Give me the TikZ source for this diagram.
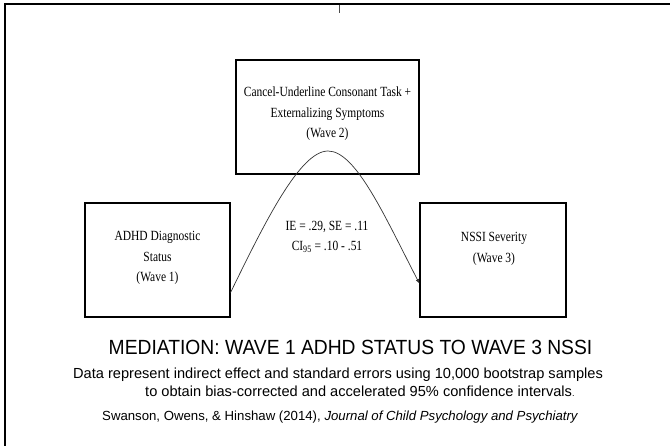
\documentclass[tikz,border=0pt]{standalone}
\usepackage{fontspec}
\setmainfont{Liberation Serif}
\newfontfamily\boxfont[FakeStretch=0.82]{Liberation Serif}
\newfontfamily\sansf{Liberation Sans}
\newfontfamily\titlefont[FakeStretch=0.94]{Liberation Sans}
\usetikzlibrary{arrows.meta,shadows}
\begin{document}
\begin{tikzpicture}[x=1pt,y=-1pt,
  box/.style={draw=black, line width=1.1pt, fill=white, inner sep=0pt,
    drop shadow={shadow xshift=0.6pt, shadow yshift=-1.2pt, fill=black!35, opacity=0.6}},
  boxtxt/.style={align=center, inner sep=0pt, font=\boxfont\fontsize{14}{20.5}\selectfont},
  conn/.style={draw=black!80, line width=0.7pt, -{Latex[length=4.5pt,width=3.6pt]}},
  frame/.style={line width=2pt, draw=black},
  caption/.style={inner sep=0pt, anchor=base west, font=\sansf\fontsize{14.6}{16}\selectfont}]
\useasboundingbox[fill=white] (0,0) rectangle (670,446);
% frame
\coordinate (fc) at (5,4.5);
\coordinate (fr) at (670,4.5);
\coordinate (fb) at (5,446);
\draw[frame] (fr) -- (fc) -- (fb);
\coordinate (tk1) at (339,5);
\coordinate (tk2) at (339,13);
\draw[black!70, line width=0.7pt] (tk1) -- (tk2);
% boxes
\node[box, minimum width=183pt, minimum height=114pt] (T) at (327.5,117) {};
\node[box, minimum width=145pt, minimum height=114pt] (L) at (157.5,260) {};
\node[box, minimum width=146pt, minimum height=114pt] (R) at (493,260) {};
% box texts
\node[boxtxt] (toptext) at (327.5,114) {Cancel-Underline Consonant Task +\\Externalizing Symptoms\\(Wave 2)};
\node[boxtxt] (lefttext) at (157.5,258) {ADHD Diagnostic\\Status\\(Wave 1)};
\node[boxtxt] (righttext) at (494,249) {NSSI Severity\\(Wave 3)};
\node[boxtxt] (ie) at (327,237) {IE = .29, SE = .11\\CI\textsubscript{95} = .10 - .51};
% connector
\coordinate (peak) at (328,151);
\draw[conn] ([yshift=25pt]L.south east) .. controls (265,222) and (300,151) .. (peak)
  .. controls (356,151) and (385,217) .. ([yshift=34pt]R.south west);
% captions
\node[inner sep=0pt, anchor=base, font=\titlefont\fontsize{20.5}{22}\selectfont] (title) at (350.5,354.5) {MEDIATION: WAVE 1 ADHD STATUS TO WAVE 3 NSSI};
\node[caption] (data1) at (73,378.5) {Data represent indirect effect and standard errors using 10,000 bootstrap samples};
\node[caption] (data2) at (145,396.5) {to obtain bias-corrected and accelerated 95\% confidence intervals{\fontsize{9}{10}\selectfont.}};
\node[caption, font=\sansf\fontsize{13.2}{15}\selectfont] (cite) at (102,421) {Swanson, Owens, \& Hinshaw (2014), \textit{Journal of Child Psychology and Psychiatry}};
\end{tikzpicture}
\end{document}
